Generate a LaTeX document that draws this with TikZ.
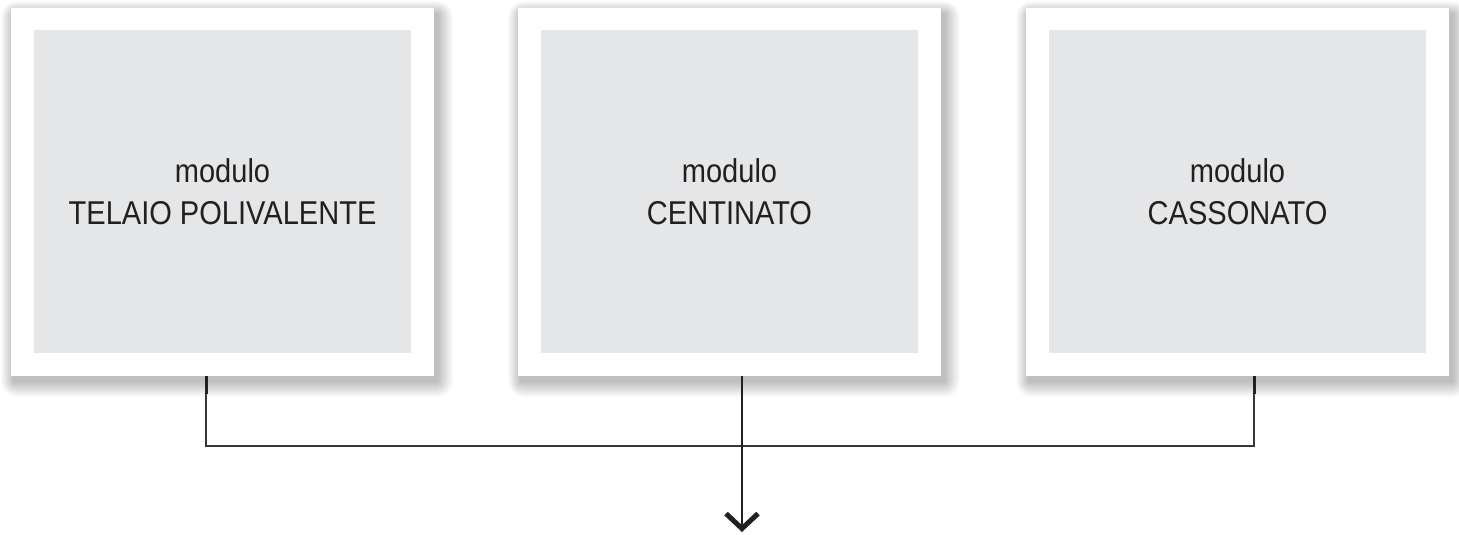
\documentclass[tikz,border=0pt]{standalone}
\usepackage{fontspec}
\setmainfont{Liberation Sans}
\newfontfamily\boxfont[FakeStretch=0.88]{Liberation Sans}
\usetikzlibrary{arrows.meta,calc}
\definecolor{panel}{RGB}{229,230,232}
\definecolor{ink}{RGB}{35,31,32}
\definecolor{wirec}{RGB}{55,53,53}
\tikzset{
  frame/.style={draw=none,fill=white,minimum width=423pt,minimum height=368pt,inner sep=0pt,outer sep=0pt},
  panelbox/.style={draw=none,fill=panel,minimum width=377pt,minimum height=323pt,inner sep=0pt,
    align=center,text=ink,font=\boxfont\fontsize{33}{42}\selectfont},
  wire/.style={draw=wirec,line width=1.5pt},
  stub/.style={draw=ink,line width=3pt},
  mainline/.style={draw=ink,line width=2.2pt},
}
\begin{document}
\begin{tikzpicture}[x=1pt,y=-1pt]
\useasboundingbox[fill=white] (0,0) rectangle (1459,535);
% soft shadows
\foreach \cx in {222.5,729.5,1237.5}{
  \foreach \i in {1,...,16}{
    \fill[black,opacity=0.016,rounded corners=\i pt]
      (\cx-211.5+3-0.8*\i, 8+6-0.8*\i) rectangle (\cx+211.5+3+\i, 376+5+\i);
  }
}
\node[frame] (f1) at (222.5,192) {};
\node[frame] (f2) at (729.5,192) {};
\node[frame] (f3) at (1237.5,192) {};
\node[panelbox] (m1) at (222.5,191.5) {modulo\\TELAIO POLIVALENTE};
\node[panelbox] (m2) at (729.5,191.5) {modulo\\CENTINATO};
\node[panelbox] (m3) at (1237.5,191.5) {modulo\\CASSONATO};
\coordinate (p1) at ($(f1.south)+(-16.5,0)$);
\coordinate (p2) at ($(f2.south)+(12.5,0)$);
\coordinate (p3) at ($(f3.south)+(16.5,0)$);
\coordinate (busy) at (0,446);
\coordinate (tip) at (742,532);
\draw[wire] (p1) |- (p3 |- busy) -- (p3);
\draw[stub] (p1) -- ++(0,18);
\draw[stub] (p3) -- ++(0,18);
\draw[mainline,-{Straight Barb[length=15pt,width=32pt,line width=5pt]}] (p2) -- (tip);
\end{tikzpicture}
\end{document}
